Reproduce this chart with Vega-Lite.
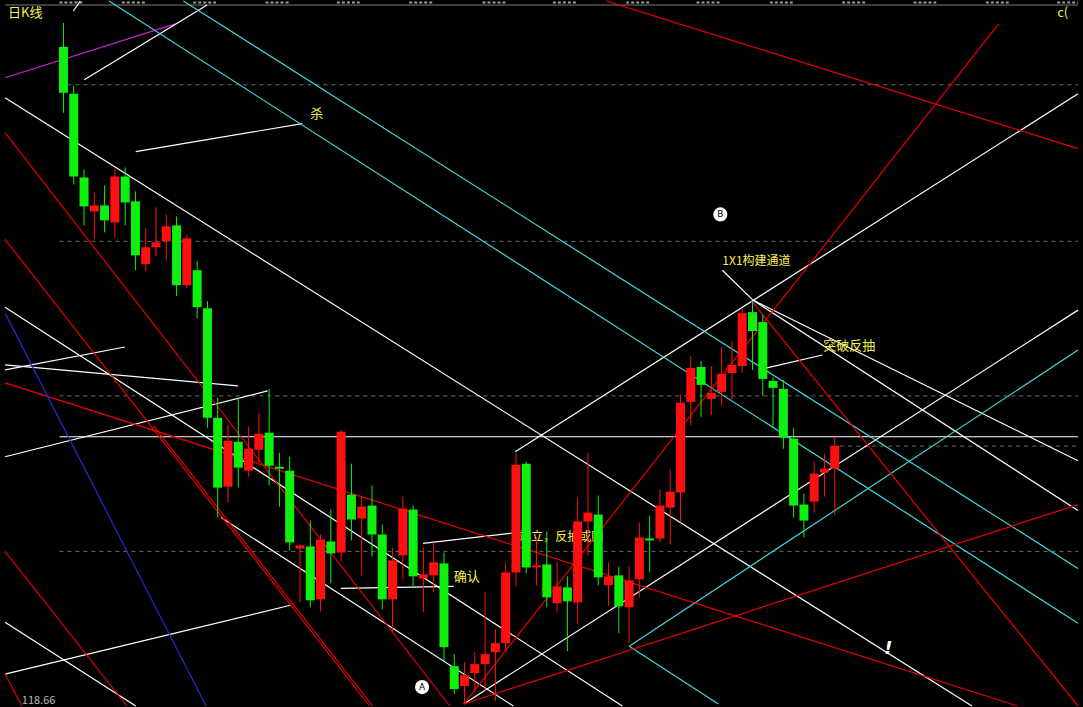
{
  "$schema": "https://vega.github.io/schema/vega-lite/v6.json",
  "width": 1083,
  "height": 707,
  "autosize": {"type": "fit", "contains": "padding"},
  "padding": 0,
  "background": "#000000",
  "config": {"view": {"stroke": null}, "axis": {"disable": true}},
  "datasets": {
    "candles": [
      {"i":0,"o":151.7,"h":152.9,"l":148.4,"c":149.4},
      {"i":1,"o":149.35,"h":149.75,"l":144.8,"c":145.2},
      {"i":2,"o":145.15,"h":145.55,"l":142.75,"c":143.7},
      {"i":3,"o":143.45,"h":144.4,"l":142.05,"c":143.75},
      {"i":4,"o":143.75,"h":144.75,"l":142.4,"c":143.0},
      {"i":5,"o":142.9,"h":145.6,"l":142.15,"c":145.2},
      {"i":6,"o":145.2,"h":145.65,"l":142.75,"c":143.9},
      {"i":7,"o":143.95,"h":144.45,"l":140.5,"c":141.25},
      {"i":8,"o":140.8,"h":142.6,"l":140.45,"c":141.65},
      {"i":9,"o":141.65,"h":143.65,"l":141.2,"c":141.9},
      {"i":10,"o":141.95,"h":143.3,"l":141.0,"c":142.7},
      {"i":11,"o":142.75,"h":143.2,"l":139.2,"c":139.75},
      {"i":12,"o":139.75,"h":142.3,"l":139.6,"c":142.1},
      {"i":13,"o":140.5,"h":140.95,"l":138.1,"c":138.65},
      {"i":14,"o":138.6,"h":138.95,"l":132.6,"c":133.1},
      {"i":15,"o":133.1,"h":134.1,"l":128.1,"c":129.6},
      {"i":16,"o":129.65,"h":132.75,"l":128.85,"c":131.95},
      {"i":17,"o":131.9,"h":134.1,"l":129.6,"c":130.6},
      {"i":18,"o":130.45,"h":132.65,"l":130.15,"c":131.55},
      {"i":19,"o":131.5,"h":133.35,"l":130.85,"c":132.3},
      {"i":20,"o":132.35,"h":134.55,"l":129.7,"c":130.7},
      {"i":21,"o":130.65,"h":131.35,"l":128.65,"c":130.55},
      {"i":22,"o":130.45,"h":131.15,"l":126.45,"c":126.85},
      {"i":23,"o":126.55,"h":126.75,"l":123.85,"c":126.7},
      {"i":24,"o":126.65,"h":127.95,"l":123.6,"c":123.95},
      {"i":25,"o":124.0,"h":127.25,"l":123.4,"c":127.0},
      {"i":26,"o":126.9,"h":128.5,"l":124.8,"c":126.3},
      {"i":27,"o":126.35,"h":132.5,"l":125.9,"c":132.4},
      {"i":28,"o":129.25,"h":130.8,"l":126.95,"c":128.0},
      {"i":29,"o":128.05,"h":129.15,"l":125.2,"c":128.65},
      {"i":30,"o":128.7,"h":129.7,"l":126.15,"c":127.25},
      {"i":31,"o":127.25,"h":127.75,"l":123.5,"c":124.0},
      {"i":32,"o":124.0,"h":126.6,"l":122.4,"c":125.95},
      {"i":33,"o":126.2,"h":129.15,"l":125.0,"c":128.55},
      {"i":34,"o":128.5,"h":128.7,"l":124.6,"c":125.15},
      {"i":35,"o":125.05,"h":126.6,"l":123.35,"c":125.25},
      {"i":36,"o":125.2,"h":126.85,"l":124.35,"c":125.85},
      {"i":37,"o":125.8,"h":126.35,"l":120.9,"c":121.6},
      {"i":38,"o":120.65,"h":121.25,"l":119.25,"c":119.5},
      {"i":39,"o":119.65,"h":120.85,"l":118.8,"c":120.2},
      {"i":40,"o":120.3,"h":121.35,"l":119.35,"c":120.75},
      {"i":41,"o":120.75,"h":124.35,"l":119.4,"c":121.25},
      {"i":42,"o":121.35,"h":122.5,"l":118.9,"c":121.8},
      {"i":43,"o":121.8,"h":125.85,"l":121.4,"c":125.35},
      {"i":44,"o":125.35,"h":131.35,"l":124.65,"c":130.75},
      {"i":45,"o":130.8,"h":130.9,"l":125.3,"c":125.6},
      {"i":46,"o":125.6,"h":127.1,"l":124.7,"c":125.7},
      {"i":47,"o":125.75,"h":127.4,"l":123.6,"c":124.1},
      {"i":48,"o":123.8,"h":125.85,"l":123.35,"c":124.65},
      {"i":49,"o":124.6,"h":125.15,"l":121.4,"c":123.9},
      {"i":50,"o":123.85,"h":129.1,"l":122.75,"c":127.9},
      {"i":51,"o":127.9,"h":131.35,"l":126.2,"c":128.35},
      {"i":52,"o":128.25,"h":129.2,"l":124.7,"c":125.1},
      {"i":53,"o":124.7,"h":125.85,"l":123.7,"c":125.15},
      {"i":54,"o":125.2,"h":125.65,"l":122.3,"c":123.65},
      {"i":55,"o":123.6,"h":125.65,"l":121.8,"c":124.95},
      {"i":56,"o":125.0,"h":127.85,"l":124.1,"c":127.1},
      {"i":57,"o":127.05,"h":128.2,"l":125.35,"c":126.95},
      {"i":58,"o":127.05,"h":129.5,"l":126.85,"c":128.7},
      {"i":59,"o":128.6,"h":130.5,"l":126.75,"c":129.4},
      {"i":60,"o":129.35,"h":134.25,"l":127.85,"c":133.85},
      {"i":61,"o":133.9,"h":136.2,"l":132.75,"c":135.6},
      {"i":62,"o":135.65,"h":135.95,"l":133.15,"c":134.75},
      {"i":63,"o":134.05,"h":135.7,"l":133.25,"c":134.35},
      {"i":64,"o":134.4,"h":136.65,"l":133.7,"c":135.3},
      {"i":65,"o":135.35,"h":136.95,"l":134.0,"c":135.75},
      {"i":66,"o":135.7,"h":138.6,"l":135.35,"c":138.35},
      {"i":67,"o":138.4,"h":138.95,"l":135.5,"c":137.45},
      {"i":68,"o":137.9,"h":138.25,"l":134.2,"c":135.05},
      {"i":69,"o":134.95,"h":135.15,"l":132.65,"c":134.6},
      {"i":70,"o":134.55,"h":135.0,"l":131.55,"c":132.1},
      {"i":71,"o":132.05,"h":132.6,"l":128.1,"c":128.7},
      {"i":72,"o":128.75,"h":129.3,"l":127.1,"c":127.95},
      {"i":73,"o":128.9,"h":130.9,"l":128.35,"c":130.3},
      {"i":74,"o":130.35,"h":131.3,"l":129.15,"c":130.55},
      {"i":75,"o":130.55,"h":132.15,"l":128.25,"c":131.7}
    ],
    "grid": [
      {"x":-0.39,"y":149.8,"x2":98.65,"y2":149.8},
      {"x":-0.39,"y":141.95,"x2":98.65,"y2":141.95},
      {"x":-0.39,"y":134.2,"x2":98.65,"y2":134.2},
      {"x":-0.39,"y":126.4,"x2":98.65,"y2":126.4},
      {"x":75.53,"y":131.68,"x2":98.65,"y2":131.68}
    ],
    "dateticks": [
      {"x":-0.39,"x2":1.83},{"x":5.68,"x2":8.0},{"x":12.62,"x2":14.84},
      {"x":19.65,"x2":21.97},{"x":26.59,"x2":28.81},{"x":33.62,"x2":35.93},
      {"x":40.75,"x2":42.97},{"x":47.59,"x2":49.9},{"x":54.72,"x2":56.94},
      {"x":61.56,"x2":63.87},{"x":68.69,"x2":70.91},{"x":75.72,"x2":77.94},
      {"x":82.66,"x2":84.87},{"x":89.69,"x2":91.91},{"x":96.63,"x2":98.65}
    ],
    "lines": [
      {"x":-5.68,"y":153.8,"x2":98.65,"y2":153.8,"col":"#7a7a7a"},
      {"x":-0.39,"y":132.15,"x2":98.65,"y2":132.15,"col":"#ffffff"},
      {"x":-5.68,"y":150.15,"x2":10.89,"y2":152.85,"col":"#d020d0"},
      {"x":-5.68,"y":149.15,"x2":88.34,"y2":118.65,"col":"#ffffff"},
      {"x":2.02,"y":150.05,"x2":13.97,"y2":153.8,"col":"#ffffff"},
      {"x":0.96,"y":153.5,"x2":1.64,"y2":154.0,"col":"#ffffff"},
      {"x":7.03,"y":146.45,"x2":23.22,"y2":147.85,"col":"#ffffff"},
      {"x":-5.68,"y":135.5,"x2":5.97,"y2":136.65,"col":"#ffffff"},
      {"x":-5.68,"y":135.75,"x2":16.96,"y2":134.7,"col":"#ffffff"},
      {"x":-5.68,"y":131.15,"x2":19.85,"y2":134.45,"col":"#ffffff"},
      {"x":-5.68,"y":138.65,"x2":54.34,"y2":118.65,"col":"#ffffff"},
      {"x":15.32,"y":128.1,"x2":43.74,"y2":118.65,"col":"#ffffff"},
      {"x":-5.68,"y":122.85,"x2":7.03,"y2":118.65,"col":"#ffffff"},
      {"x":-5.68,"y":120.25,"x2":22.06,"y2":123.7,"col":"#ffffff"},
      {"x":26.97,"y":124.55,"x2":37.96,"y2":124.65,"col":"#ffffff"},
      {"x":34.97,"y":126.8,"x2":44.12,"y2":127.35,"col":"#ffffff"},
      {"x":38.92,"y":118.75,"x2":98.65,"y2":138.5,"col":"#ffffff"},
      {"x":43.93,"y":131.4,"x2":98.65,"y2":149.35,"col":"#ffffff"},
      {"x":64.07,"y":140.5,"x2":67.05,"y2":139.0,"col":"#ffffff"},
      {"x":67.05,"y":139.0,"x2":98.65,"y2":128.45,"col":"#ffffff"},
      {"x":67.05,"y":139.0,"x2":98.65,"y2":130.95,"col":"#ffffff"},
      {"x":68.4,"y":135.6,"x2":73.8,"y2":136.25,"col":"#ffffff"},
      {"x":4.43,"y":154.0,"x2":98.65,"y2":122.8,"col":"#40d8d8"},
      {"x":11.66,"y":154.0,"x2":98.65,"y2":125.55,"col":"#40d8d8"},
      {"x":55.01,"y":121.65,"x2":98.65,"y2":136.5,"col":"#40d8d8"},
      {"x":55.01,"y":121.65,"x2":63.68,"y2":118.75,"col":"#40d8d8"},
      {"x":52.79,"y":154.0,"x2":98.65,"y2":146.6,"col":"#e80000"},
      {"x":38.92,"y":118.75,"x2":90.94,"y2":152.85,"col":"#e80000"},
      {"x":38.92,"y":118.75,"x2":98.65,"y2":128.75,"col":"#e80000"},
      {"x":-5.68,"y":134.85,"x2":92.77,"y2":118.65,"col":"#e80000"},
      {"x":-5.68,"y":147.4,"x2":37.57,"y2":118.65,"col":"#e80000"},
      {"x":-5.68,"y":142.05,"x2":29.77,"y2":118.65,"col":"#e80000"},
      {"x":8.77,"y":132.7,"x2":30.06,"y2":118.65,"col":"#e80000"},
      {"x":-5.68,"y":126.4,"x2":6.17,"y2":118.65,"col":"#e80000"},
      {"x":-5.68,"y":120.25,"x2":-4.05,"y2":118.65,"col":"#e80000"},
      {"x":66.86,"y":139.0,"x2":98.65,"y2":118.65,"col":"#e80000"},
      {"x":-5.68,"y":138.35,"x2":13.87,"y2":118.65,"col":"#2828d8"}
    ],
    "labels": [
      {"x":-5.39,"y":153.38,"t":"日K线","col":"#f8f050","s":13},
      {"x":96.63,"y":153.38,"t":"c(","col":"#f8f050","s":13},
      {"x":23.99,"y":148.35,"t":"杀","col":"#f8f050","s":13},
      {"x":64.07,"y":140.95,"t":"1X1构建通道","col":"#f8f050","s":12},
      {"x":73.89,"y":136.7,"t":"突破反抽","col":"#f8f050","s":13},
      {"x":37.96,"y":125.1,"t":"确认","col":"#f8f050","s":13},
      {"x":-4.05,"y":118.9,"t":"118.66","col":"#b8b8b8","s":11}
    ],
    "under": [
      {"x":44.32,"y":127.1,"t":"站立，反抽或回"}
    ],
    "markers": [
      {"x":63.87,"y":143.3,"t":"B"},
      {"x":34.87,"y":119.6,"t":"A"}
    ],
    "bang": [
      {"x":80.2,"y":121.5,"t":"!"}
    ]
  },
  "layer": [
    {
      "data": {"name": "grid"},
      "mark": {"type": "rule", "color": "#6a6a6a", "strokeWidth": 1, "strokeDash": [4, 4]},
      "encoding": {
        "x": {"field": "x", "type": "quantitative", "scale": {"domain": [-5.684, 98.651], "nice": false, "zero": false}},
        "y": {"field": "y", "type": "quantitative", "scale": {"domain": [118.65, 154], "nice": false, "zero": false}},
        "x2": {"field": "x2"},
        "y2": {"field": "y2"}
      }
    },
    {
      "data": {"name": "dateticks"},
      "mark": {"type": "rule", "color": "#9a9a9a", "strokeWidth": 2, "strokeDash": [3, 2]},
      "encoding": {
        "x": {"field": "x", "type": "quantitative", "scale": {"domain": [-5.684, 98.651], "nice": false, "zero": false}},
        "x2": {"field": "x2"},
        "y": {"datum": 153.93, "type": "quantitative", "scale": {"domain": [118.65, 154], "nice": false, "zero": false}}
      }
    },
    {
      "data": {"name": "under"},
      "mark": {"type": "text", "align": "left", "baseline": "middle", "font": "Noto Sans CJK SC", "fontSize": 12, "color": "#f8f050"},
      "encoding": {
        "x": {"field": "x", "type": "quantitative", "scale": {"domain": [-5.684, 98.651], "nice": false, "zero": false}},
        "y": {"field": "y", "type": "quantitative", "scale": {"domain": [118.65, 154], "nice": false, "zero": false}},
        "text": {"field": "t"}
      }
    },
    {
      "data": {"name": "lines"},
      "mark": {"type": "rule", "strokeWidth": 1.2},
      "encoding": {
        "x": {"field": "x", "type": "quantitative", "scale": {"domain": [-5.684, 98.651], "nice": false, "zero": false}},
        "y": {"field": "y", "type": "quantitative", "scale": {"domain": [118.65, 154], "nice": false, "zero": false}},
        "x2": {"field": "x2"},
        "y2": {"field": "y2"},
        "color": {"field": "col", "type": "nominal", "scale": null}
      }
    },
    {
      "data": {"name": "candles"},
      "mark": {"type": "rule", "strokeWidth": 1},
      "encoding": {
        "x": {"field": "i", "type": "quantitative", "scale": {"domain": [-5.684, 98.651], "nice": false, "zero": false}},
        "y": {"field": "l", "type": "quantitative", "scale": {"domain": [118.65, 154], "nice": false, "zero": false}},
        "y2": {"field": "h"},
        "color": {"condition": {"test": "datum.c >= datum.o", "value": "#ff1010"}, "value": "#10f010"}
      }
    },
    {
      "data": {"name": "candles"},
      "mark": {"type": "bar", "size": 9},
      "encoding": {
        "x": {"field": "i", "type": "quantitative", "scale": {"domain": [-5.684, 98.651], "nice": false, "zero": false}},
        "y": {"field": "o", "type": "quantitative", "scale": {"domain": [118.65, 154], "nice": false, "zero": false}},
        "y2": {"field": "c"},
        "color": {"condition": {"test": "datum.c >= datum.o", "value": "#ff1010"}, "value": "#10f010"}
      }
    },
    {
      "data": {"name": "labels"},
      "mark": {"type": "text", "align": "left", "baseline": "middle", "font": "Noto Sans CJK SC"},
      "encoding": {
        "x": {"field": "x", "type": "quantitative", "scale": {"domain": [-5.684, 98.651], "nice": false, "zero": false}},
        "y": {"field": "y", "type": "quantitative", "scale": {"domain": [118.65, 154], "nice": false, "zero": false}},
        "text": {"field": "t"},
        "color": {"field": "col", "type": "nominal", "scale": null},
        "size": {"field": "s", "type": "quantitative", "scale": null}
      }
    },
    {
      "data": {"name": "markers"},
      "mark": {"type": "point", "filled": true, "size": 200, "color": "#ffffff", "opacity": 1},
      "encoding": {
        "x": {"field": "x", "type": "quantitative", "scale": {"domain": [-5.684, 98.651], "nice": false, "zero": false}},
        "y": {"field": "y", "type": "quantitative", "scale": {"domain": [118.65, 154], "nice": false, "zero": false}}
      }
    },
    {
      "data": {"name": "markers"},
      "mark": {"type": "text", "align": "center", "baseline": "middle", "font": "DejaVu Sans", "fontSize": 9, "color": "#000000"},
      "encoding": {
        "x": {"field": "x", "type": "quantitative", "scale": {"domain": [-5.684, 98.651], "nice": false, "zero": false}},
        "y": {"field": "y", "type": "quantitative", "scale": {"domain": [118.65, 154], "nice": false, "zero": false}},
        "text": {"field": "t"}
      }
    },
    {
      "data": {"name": "bang"},
      "mark": {"type": "text", "align": "center", "baseline": "middle", "font": "DejaVu Sans", "fontSize": 18, "fontWeight": "bold", "fontStyle": "italic", "color": "#ffffff"},
      "encoding": {
        "x": {"field": "x", "type": "quantitative", "scale": {"domain": [-5.684, 98.651], "nice": false, "zero": false}},
        "y": {"field": "y", "type": "quantitative", "scale": {"domain": [118.65, 154], "nice": false, "zero": false}},
        "text": {"field": "t"}
      }
    }
  ]
}
